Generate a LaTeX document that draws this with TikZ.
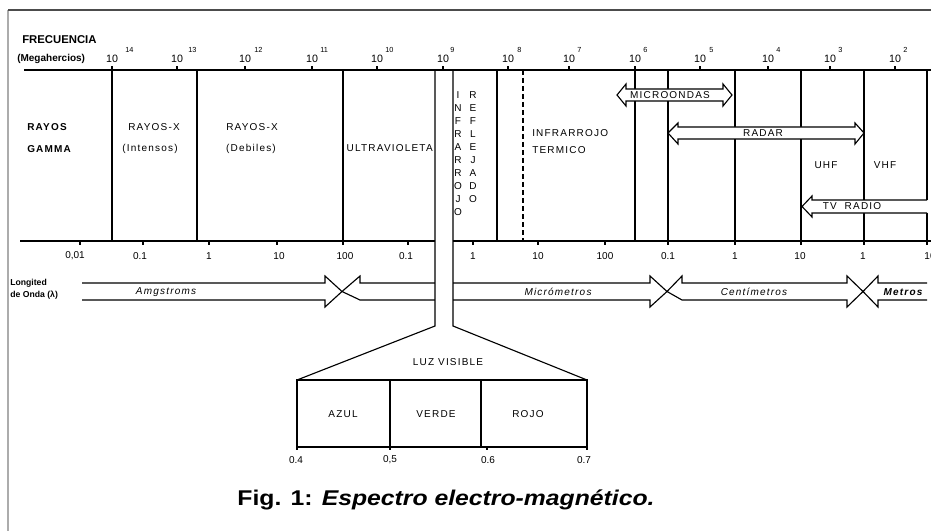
\documentclass[tikz,border=0pt]{standalone}
\usepackage{fontspec}
\setmainfont{Liberation Sans}
\newfontfamily\lett[LetterSpace=12]{Liberation Sans}
\begin{document}
\begin{tikzpicture}[x=0.75pt,y=-0.75pt,
  lbl/.style={font=\lett\fontsize{7.5}{9}\selectfont, inner sep=0pt},
  lblb/.style={font=\lett\bfseries\fontsize{7.5}{9}\selectfont, inner sep=0pt},
  ttl/.style={font=\bfseries\fontsize{8.5}{10}\selectfont, inner sep=0pt},
  small/.style={font=\bfseries\fontsize{6.5}{8}\selectfont, inner sep=0pt},
  num/.style={font=\fontsize{7.5}{9}\selectfont, inner sep=0pt},
  expo/.style={font=\fontsize{5.5}{6}\selectfont, inner sep=0pt},
  ital/.style={font=\lett\itshape\fontsize{7.5}{9}\selectfont, inner sep=0pt},
  vert/.style={font=\lett\fontsize{7.5}{9.75}\selectfont, inner sep=0pt, align=center, anchor=north},
  ln/.style={line width=0.85pt},
  arr/.style={draw, fill=white, line width=0.85pt, line join=miter},
  frame/.style={draw=gray!65, line width=1pt}]
\useasboundingbox (0,0) rectangle (931,531);

% frame
\draw[frame] (8,531) -- (8,10);
\draw[draw=black!70, line width=1pt] (8,10) -- (931,10);

% titles
\node[ttl, anchor=west] (frec) at (22,40) {FRECUENCIA};
\node[ttl, anchor=west, font=\bfseries\fontsize{7.5}{9}\selectfont] (mhz) at (17,59) {(Megahercios)};

% frequency axis
\draw[ln] (24,70) -- (931,70);
\foreach \x/\e/\o in {112/14/13,177/13/11,245/12/9,312/11/8,377/10/8,443/9/7,508/8/9,569/7/8,635/6/8,700/5/9,768/4/8,830/3/8,895/2/8}{
  \draw[ln] (\x,70) -- (\x,66);
  \node[num, font=\fontsize{8}{9}\selectfont] (ften\e) at (\x,59) {10};
  \node[expo, anchor=west] (fexp\e) at (\x+\o,50) {\e};
}

% wavelength axis
\draw[ln] (20,241) -- (435,241);
\draw[ln] (453,241) -- (931,241);
\foreach \x/\t/\c [count=\i] in {80/{0,01}/75,143/0.1/140,209/1/209,277/10/279,343/100/345,408/0.1/406,473/1/473,538/10/538,605/100/605,668/0.1/668,735/1/735,801/10/800,864/1/863,927/10/930}{
  \draw[ln] (\x,241) -- (\x,245);
  \node[num] (w\i) at (\c,256) {\t};
}

% vertical separators
\foreach \x in {112,197,343,497,635,668,735,801,864}
  \draw[ln] (\x,70) -- (\x,241);
\draw[ln, dash pattern=on 4pt off 2pt] (523,70) -- (523,241);
\draw[ln] (927,70) -- (927,200);
\draw[ln] (927,213) -- (927,241);

% region labels
\node[lblb, anchor=west] (rg1) at (27,127) {RAYOS};
\node[lblb, anchor=west] (rg2) at (27,149) {GAMMA};
\node[lbl] (rx1) at (154,127) {RAYOS-X};
\node[lbl] (rx2) at (150,149) {(Intensos)};
\node[lbl] (rd1) at (252,127) {RAYOS-X};
\node[lbl] (rd2) at (251,149) {(Debiles)};
\node[lbl, anchor=east] (uv) at (433,148) {ULTRAVIOLETA};
\node[vert] (irr) at (458,91) {I\\N\\F\\R\\A\\R\\R\\O\\J\\O};
\node[vert] (ref) at (473,91) {R\\E\\F\\L\\E\\J\\A\\D\\O};
\node[lbl, anchor=west] (irt1) at (532,133) {INFRARROJO};
\node[lbl, anchor=west] (irt2) at (532,150) {TERMICO};
\node[lbl] (uhf) at (826,165) {UHF};
\node[lbl] (vhf) at (885,165) {VHF};

% band arrows
\draw[arr] (617,95) -- (626,84) -- (626,89) -- (723,89) -- (723,84) -- (732,95) -- (723,106) -- (723,101) -- (626,101) -- (626,106) -- cycle;
\node[lbl] (micro) at (670,95) {MICROONDAS};
\draw[arr] (668,133) -- (678,123) -- (678,127) -- (855,127) -- (855,123) -- (864,133) -- (855,144) -- (855,139) -- (678,139) -- (678,144) -- cycle;
\node[lbl] (radar) at (763,133) {RADAR};
\fill[white] (812,200) rectangle (927,213);
\draw[arr] (927,200) -- (812,200) -- (812,196) -- (802,206.5) -- (812,217) -- (812,213) -- (927,213);
\node[lbl] (tvr) at (852,206.5) {TV\ \ RADIO};

% wavelength unit arrows
\node[small, anchor=west] (long1) at (10,283) {Longited};
\node[small, anchor=west] (long2) at (10,295) {de Onda (λ)};
\draw[arr] (82,283) -- (325,283) -- (325,276) -- (342,291.5) -- (325,307) -- (325,300) -- (82,300);
\draw[arr] (342,291.5) -- (360,276) -- (360,283) -- (650,283) -- (650,276) -- (667,291.5) -- (650,307) -- (650,300) -- (360,300) -- cycle;
\draw[arr] (667,291.5) -- (682,276) -- (682,283) -- (847,283) -- (847,276) -- (863,291.5) -- (847,307) -- (847,300) -- (682,300) -- cycle;
\draw[arr] (927,283) -- (878,283) -- (878,276) -- (863,291.5) -- (878,307) -- (878,300) -- (927,300);
\node[ital] (ang) at (166,292) {Amgstroms};
\node[ital] (mic) at (558,292) {Micrómetros};
\node[ital] (cen) at (754,292) {Centímetros};
\node[ital, font=\lett\bfseries\itshape\fontsize{7.5}{9}\selectfont] (met) at (903,292) {Metros};

% visible strip
\fill[white] (435,71) rectangle (453,326);
\draw[ln] (435,70) -- (435,326) -- (297,380);
\draw[ln] (453,70) -- (453,326) -- (587,380);

% visible box
\draw[ln] (297,380) rectangle (587,447);
\draw[ln] (390,380) -- (390,447);
\draw[ln] (481,380) -- (481,447);
\foreach \x in {297,390,487,587} \draw[ln] (\x,447) -- (\x,450);
\node[lbl] (luz) at (448,362) {LUZ VISIBLE};
\node[lbl] (azul) at (343,414) {AZUL};
\node[lbl] (verde) at (436,414) {VERDE};
\node[lbl] (rojo) at (528,414) {ROJO};
\node[num] (v4) at (296,460) {0.4};
\node[num] (v5) at (390,460) {0,5};
\node[num] (v6) at (488,460) {0.6};
\node[num] (v7) at (584,460) {0.7};

% caption
\node[inner sep=0pt] (cap) at (446,500) {\scalebox{1.16}[1]{\fontsize{16}{18}\selectfont\bfseries Fig. 1: \itshape Espectro electro-magnético.}};
\end{tikzpicture}
\end{document}
